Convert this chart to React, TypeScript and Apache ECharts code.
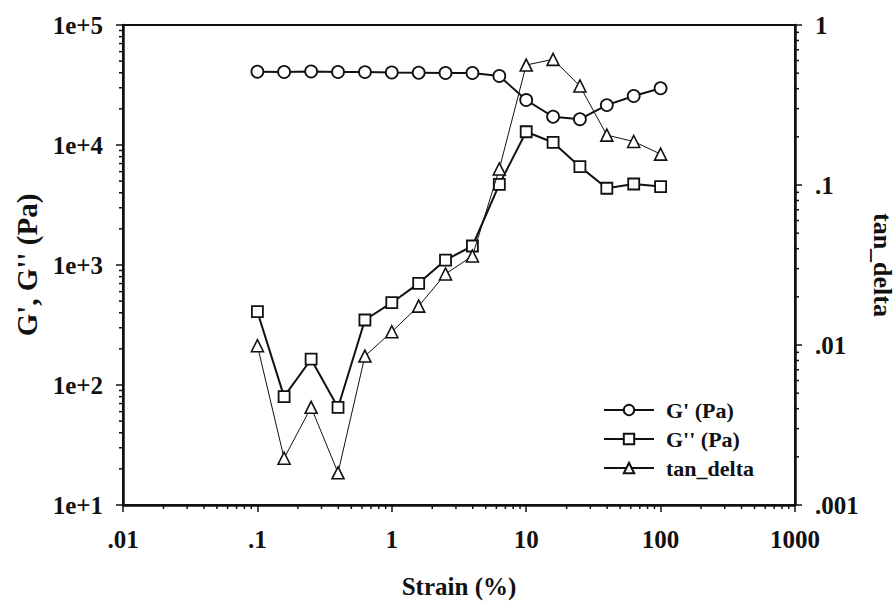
import React, { useEffect, useRef } from "react";
import * as echarts from "echarts";

const strain = [0.1, 0.158, 0.251, 0.398, 0.631, 1, 1.585, 2.51, 3.98, 6.31, 10, 15.85, 25.1, 39.8, 63.1, 100];
const gPrime = [40800, 40600, 41000, 40600, 40500, 40200, 40000, 39800, 39800, 37600, 23700, 17200, 16400, 21500, 25600, 29700];
const gDouble = [408, 80, 164, 65, 348, 485, 703, 1100, 1440, 4700, 12900, 10500, 6600, 4360, 4730, 4500];
const tanDelta = [0.0099, 0.00196, 0.00408, 0.00159, 0.00853, 0.0121, 0.0175, 0.0278, 0.036, 0.126, 0.562, 0.61, 0.416, 0.205, 0.187, 0.156];

const xTickLabels = [".01", ".1", "1", "10", "100", "1000"];
const leftTickLabels = ["1e+1", "1e+2", "1e+3", "1e+4", "1e+5"];
const rightTickLabels = [".001", ".01", ".1", "1"];

const seriesNames = ["G' (Pa)", "G'' (Pa)", "tan_delta"];

const FONT = "'Liberation Serif', 'Times New Roman', serif";
const INK = "#111";

function minorValues(minExp: number, maxExp: number) {
  const out: number[] = [];
  for (let e = minExp; e < maxExp; e++) {
    for (let k = 2; k <= 9; k++) out.push(k * Math.pow(10, e));
  }
  return out;
}

export default function App() {
  const ref = useRef<HTMLDivElement>(null);
  useEffect(() => {
    if (!ref.current) return;
    const chart = echarts.init(ref.current, undefined, { renderer: "svg" });
    const tickStyle = { stroke: INK, lineWidth: 1.5 };
    const xMinor = minorValues(-2, 3).map((v) => [v, 10]);
    const leftMinor = minorValues(1, 5).map((v) => [0.01, v]);
    const rightMinor = minorValues(-3, 0).map((v) => [1000, v]);
    const labelStyle = { color: INK, fontFamily: FONT, fontWeight: "bold" as const, fontSize: 25 };
    chart.setOption({
      animation: false,
      backgroundColor: "#fff",
      grid: {
        left: 123,
        right: 101,
        top: 25,
        bottom: 98,
        show: true,
        borderColor: INK,
        borderWidth: 2,
        containLabel: false,
        outerBoundsMode: "none",
      },
      legend: {
        data: seriesNames,
        orient: "vertical",
        left: 598,
        top: 394,
        itemGap: 7,
        itemWidth: 50,
        itemHeight: 13,
        textStyle: { ...labelStyle, fontSize: 22, lineHeight: 22, padding: [0, 0, 0, 7] },
      },
      xAxis: {
        type: "log",
        logBase: 10,
        min: 0.01,
        max: 1000,
        name: "Strain (%)",
        nameLocation: "middle",
        nameGap: 69,
        nameTextStyle: { ...labelStyle, fontSize: 25 },
        axisLine: { lineStyle: { color: INK, width: 2.5 } },
        axisTick: { show: true, length: 7, lineStyle: { color: INK, width: 1.5 } },
        minorTick: { show: false },
        splitLine: { show: false },
        axisLabel: {
          ...labelStyle,
          margin: 22,
          formatter: (v: number) => xTickLabels[Math.round(Math.log10(v)) + 2] ?? "",
        },
      },
      yAxis: [
        {
          type: "log",
          logBase: 10,
          min: 10,
          max: 100000,
          name: "G', G'' (Pa)",
          nameLocation: "middle",
          nameGap: 82,
          nameTextStyle: { ...labelStyle, fontSize: 29 },
          axisLine: { lineStyle: { color: INK, width: 2.5 } },
          axisTick: { show: true, length: 7, lineStyle: { color: INK, width: 1.5 } },
          splitLine: { show: false },
          axisLabel: {
            ...labelStyle,
            margin: 20,
            formatter: (v: number) => leftTickLabels[Math.round(Math.log10(v)) - 1] ?? "",
          },
        },
        {
          type: "log",
          logBase: 10,
          min: 0.001,
          max: 1,
          position: "right",
          name: "tan_delta",
          nameLocation: "middle",
          nameRotate: -90,
          nameGap: 54,
          nameTextStyle: { ...labelStyle, fontSize: 26 },
          axisLine: { lineStyle: { color: INK, width: 2.5 } },
          axisTick: { show: true, length: 7, lineStyle: { color: INK, width: 1.5 } },
          splitLine: { show: false },
          axisLabel: {
            ...labelStyle,
            margin: 20,
            formatter: (v: number) => rightTickLabels[Math.round(Math.log10(v)) + 3] ?? "",
          },
        },
      ],
      series: [
        {
          name: seriesNames[0],
          type: "line",
          data: strain.map((x, i) => [x, gPrime[i]]),
          symbol: "circle",
          symbolSize: 12,
          lineStyle: { color: INK, width: 2 },
          itemStyle: { color: "#fff", borderColor: INK, borderWidth: 1.8 },
          z: 3,
        },
        {
          name: seriesNames[1],
          type: "line",
          data: strain.map((x, i) => [x, gDouble[i]]),
          symbol: "rect",
          symbolSize: 11,
          lineStyle: { color: INK, width: 2 },
          itemStyle: { color: "#fff", borderColor: INK, borderWidth: 1.8 },
          z: 3,
        },
        {
          name: seriesNames[2],
          type: "line",
          yAxisIndex: 1,
          data: strain.map((x, i) => [x, tanDelta[i]]),
          symbol: "triangle",
          symbolSize: 12,
          lineStyle: { color: INK, width: 1 },
          itemStyle: { color: "#fff", borderColor: INK, borderWidth: 1.6 },
          z: 4,
        },
        {
          type: "custom",
          silent: true,
          data: xMinor,
          renderItem: (_p: any, api: any) => {
            const pt = api.coord([api.value(0), api.value(1)]);
            return { type: "line", shape: { x1: pt[0], y1: pt[1], x2: pt[0], y2: pt[1] + 4 }, style: tickStyle };
          },
        },
        {
          type: "custom",
          silent: true,
          data: leftMinor,
          renderItem: (_p: any, api: any) => {
            const pt = api.coord([api.value(0), api.value(1)]);
            return { type: "line", shape: { x1: pt[0], y1: pt[1], x2: pt[0] - 4, y2: pt[1] }, style: tickStyle };
          },
        },
        {
          type: "custom",
          silent: true,
          yAxisIndex: 1,
          data: rightMinor,
          renderItem: (_p: any, api: any) => {
            const pt = api.coord([api.value(0), api.value(1)]);
            return { type: "line", shape: { x1: pt[0], y1: pt[1], x2: pt[0] + 4, y2: pt[1] }, style: tickStyle };
          },
        },
      ],
    });
    return () => chart.dispose();
  }, []);
  return (
    <div
      ref={ref}
      style={{ position: "fixed", left: 0, top: 0, width: 896, height: 603, background: "#fff" }}
    />
  );
}
